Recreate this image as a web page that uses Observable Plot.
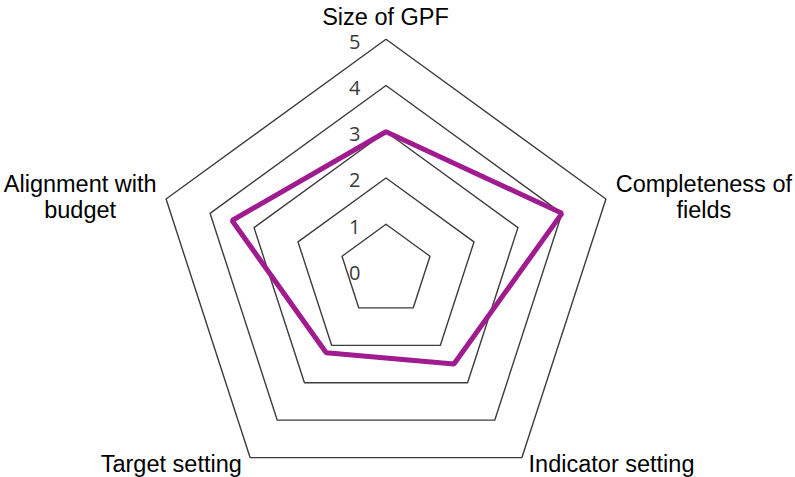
<!DOCTYPE html>
<html><head><meta charset="utf-8">
<script src="https://cdn.jsdelivr.net/npm/d3@7"></script>
<script src="https://cdn.jsdelivr.net/npm/@observablehq/plot@0.6"></script>
<style>html,body{margin:0;padding:0;background:#fff}</style>
</head><body><div id="chart"></div>
<script>
// ---- data ----
const axisLabels = ["Size of GPF", "Completeness of\nfields", "Indicator setting", "Target setting", "Alignment with\nbudget"];
const scores = [3, 4, 2.5, 2.2, 3.5];
const gridLevels = [1, 2, 3, 4, 5];
const tickLabels = [0, 1, 2, 3, 4, 5];

// ---- layout ----
const W = 795, H = 477;
const cx = 385.5, cy = 270, unit = 46.25;
const maxLevel = 5;
const labelOffsets = [[-0.5, -13.8], [97.9, 19.2], [89.6, 14.9], [-78.8, 14.6], [-85.9, 19.2]];

const n = axisLabels.length;
const ang = i => i * 2 * Math.PI / n;
const pt = (i, r) => ({x: r * Math.sin(ang(i)), y: r * Math.cos(ang(i))});

const gridData = gridLevels.flatMap(lv => axisLabels.map((_, i) => ({level: lv, ...pt(i, lv)})));
const scoreData = scores.map((v, i) => ({axis: axisLabels[i], ...pt(i, v)}));
const tickData = tickLabels.map(t => ({label: String(t), x: 0, y: t}));

const labelMarks = axisLabels.map((lab, i) => Plot.text([{label: lab, ...pt(i, maxLevel)}], {
  x: "x", y: "y", text: "label",
  dx: labelOffsets[i][0], dy: labelOffsets[i][1],
  textAnchor: "middle", lineAnchor: "bottom", lineHeight: 26.7 / 23.5,
  fontSize: 23.5, fontFamily: "Liberation Sans, Arial, sans-serif", fill: "#000"
}));

const chart = Plot.plot({
  width: W, height: H,
  marginTop: 0, marginBottom: 0, marginLeft: 0, marginRight: 0,
  x: {domain: [-cx / unit, (W - cx) / unit], range: [0, W], axis: null},
  y: {domain: [-(H - cy) / unit, cy / unit], range: [H, 0], axis: null},
  style: {background: "#fff", overflow: "visible"},
  marks: [
    Plot.line(gridData, {x: "x", y: "y", z: "level", curve: "linear-closed", stroke: "#3c3c3c", strokeWidth: 1.4}),
    Plot.line(scoreData, {x: "x", y: "y", curve: "linear-closed", stroke: "#A01A90", strokeWidth: 5, strokeLinejoin: "miter"}),
    Plot.text(tickData, {x: "x", y: "y", text: "label", dx: -25.5, dy: 3, textAnchor: "end",
      fontSize: 20, fontFamily: "Open Sans, DejaVu Sans, sans-serif", fill: "#3a3a3a"}),
    ...labelMarks
  ]
});
document.getElementById("chart").appendChild(chart);
</script>
</body></html>
